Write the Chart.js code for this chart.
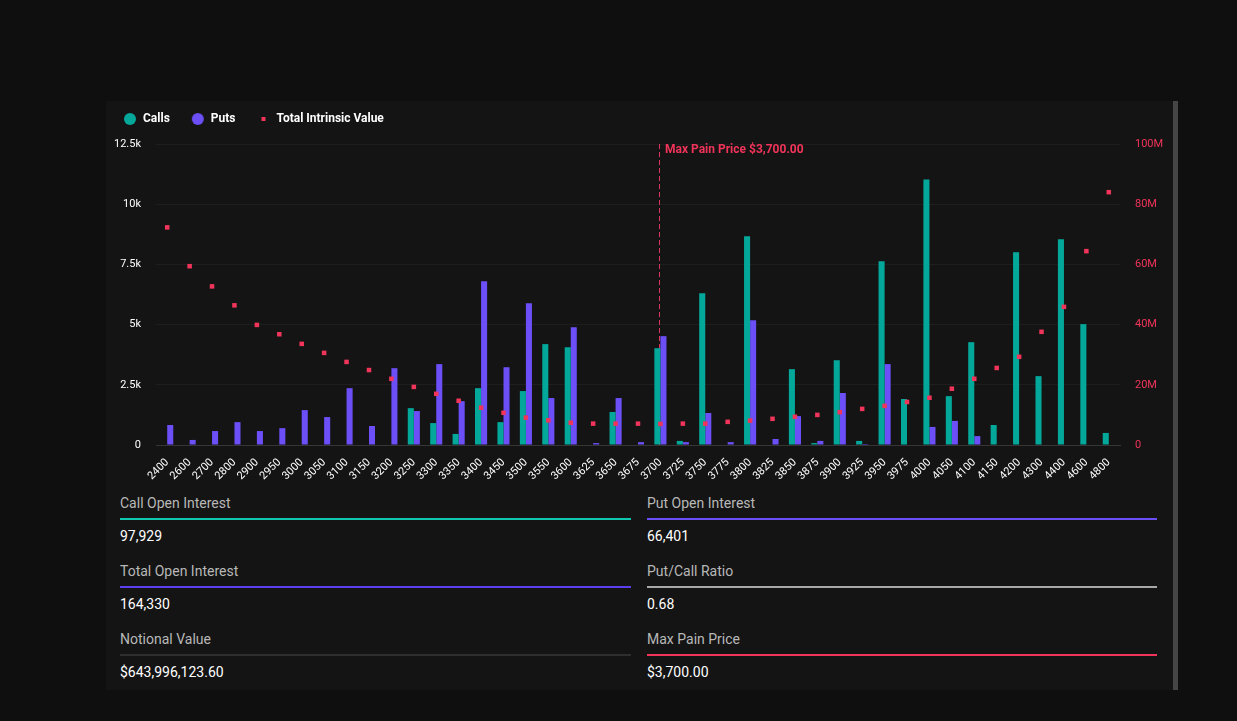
<!DOCTYPE html>
<html>
<head>
<meta charset="utf-8">
<script src="https://cdn.jsdelivr.net/npm/chart.js@4.4.1/dist/chart.umd.min.js"></script>
<style>
html,body{margin:0;padding:0;background:#0f0f0f;width:1237px;height:721px;overflow:hidden;font-family:Roboto,"Noto Sans",sans-serif;}
#card{position:absolute;left:106px;top:101px;width:1072px;height:589px;background:#141414;}
#scroll{position:absolute;left:1173px;top:101px;width:5px;height:589px;background:#454545;}
#wrap{position:absolute;left:102px;top:92px;width:1071px;height:400px;}
.stat{position:absolute;width:511px;height:50px;}
.lab{position:absolute;left:0;top:0;font-size:14px;line-height:16px;color:#b8b8b8;white-space:nowrap;}
.line{position:absolute;left:0;top:23px;width:100%;height:2px;}
.val{position:absolute;left:0;top:33px;font-size:14px;line-height:16px;color:#ffffff;white-space:nowrap;}
</style>
</head>
<body>
<div id="card"></div>
<div id="scroll"></div>
<div id="wrap"><canvas id="c" width="1071" height="400"></canvas></div>

<div class="stat" style="left:120px;top:495px;"><div class="lab">Call Open Interest</div><div class="line" style="background:#12c7b1"></div><div class="val">97,929</div></div>
<div class="stat" style="left:647px;top:495px;width:510px;"><div class="lab">Put Open Interest</div><div class="line" style="background:#6b4ff6"></div><div class="val">66,401</div></div>
<div class="stat" style="left:120px;top:563px;"><div class="lab">Total Open Interest</div><div class="line" style="background:#5a3ef0"></div><div class="val">164,330</div></div>
<div class="stat" style="left:647px;top:563px;width:510px;"><div class="lab">Put/Call Ratio</div><div class="line" style="background:#a8a8a8"></div><div class="val">0.68</div></div>
<div class="stat" style="left:120px;top:631px;"><div class="lab">Notional Value</div><div class="line" style="background:#2e2e2e"></div><div class="val">$643,996,123.60</div></div>
<div class="stat" style="left:647px;top:631px;width:510px;"><div class="lab">Max Pain Price</div><div class="line" style="background:#f0345a"></div><div class="val">$3,700.00</div></div>

<script>
// ---- data ----
const strikes = ['2400','2600','2700','2800','2900','2950','3000','3050','3100','3150','3200','3250','3300','3350','3400','3450','3500','3550','3600','3625','3650','3675','3700','3725','3750','3775','3800','3825','3850','3875','3900','3925','3950','3975','4000','4050','4100','4150','4200','4300','4400','4600','4800'];
const callsOI = [0,0,0,0,0,0,0,0,0,0,0,1530,910,460,2360,950,2240,4190,4060,0,1370,0,4020,170,6300,0,8670,0,3150,80,3520,170,7630,1910,11030,2030,4270,830,8000,2860,8540,5020,500];
const putsOI = [830,210,580,950,580,700,1450,1160,2360,790,3190,1410,3360,1820,6800,3230,5890,1950,4890,80,1950,120,4520,120,1330,120,5180,250,1200,170,2160,40,3360,0,750,1000,370,0,0,0,0,0,0];
const intrinsicM = [72.3,59.4,52.7,46.4,39.9,36.8,33.6,30.6,27.6,24.9,22.0,19.3,17.0,14.7,12.4,10.7,9.1,8.2,7.4,7.1,7.1,7.1,7.0,7.1,7.1,7.7,8.1,8.7,9.4,10.0,10.9,12.0,13.0,14.3,15.7,18.7,22.0,25.6,29.3,37.6,45.9,64.4,84.0];
const leftTicks = [0,2500,5000,7500,10000,12500];
const rightTicks = [0,20,40,60,80,100];
const maxPainStrike = '3700';
const maxPainLabel = 'Max Pain Price $3,700.00';

const COL_CALL = '#03a89b', COL_PUT = '#6c4ff7', COL_IV = '#f0345a';

function icon(kind, color){
  const cv = document.createElement('canvas');
  cv.width = 14; cv.height = 14;
  const g = cv.getContext('2d');
  g.fillStyle = color;
  if(kind==='circle'){ g.beginPath(); g.arc(7,7,6,0,Math.PI*2); g.fill(); }
  else { g.fillRect(5,5,4,4); }
  return cv;
}
const icons = [icon('circle',COL_CALL), icon('circle',COL_PUT), icon('rect',COL_IV)];

const maxPainPlugin = {
  id:'maxPain',
  beforeDatasetsDraw(chart){
    const ctx = chart.ctx, xs = chart.scales.x, a = chart.chartArea;
    const x = Math.round(xs.getPixelForValue(strikes.indexOf(maxPainStrike))) - 0.5;
    ctx.save();
    ctx.strokeStyle = '#d9365e';
    ctx.lineWidth = 1;
    ctx.setLineDash([5,3]);
    ctx.beginPath(); ctx.moveTo(x, a.top); ctx.lineTo(x, a.bottom); ctx.stroke();
    ctx.restore();
  },
  afterDatasetsDraw(chart){
    const ctx = chart.ctx, xs = chart.scales.x, a = chart.chartArea;
    const x = Math.round(xs.getPixelForValue(strikes.indexOf(maxPainStrike)));
    ctx.save();
    ctx.fillStyle = COL_IV;
    ctx.font = 'bold 12px Roboto';
    ctx.textBaseline = 'alphabetic';
    ctx.textAlign = 'left';
    ctx.fillText(maxPainLabel, x + 5, a.top + 9);
    ctx.restore();
  }
};

const tickFont = {family:'Roboto', size:11};

new Chart(document.getElementById('c'), {
  data: {
    labels: strikes,
    datasets: [
      {type:'bar', label:'Calls', data:callsOI, backgroundColor:COL_CALL, yAxisID:'y', categoryPercentage:0.54, barPercentage:1, order:1},
      {type:'bar', label:'Puts', data:putsOI, backgroundColor:COL_PUT, yAxisID:'y', categoryPercentage:0.54, barPercentage:1, order:1},
      {type:'line', label:'Total Intrinsic Value', data:intrinsicM, yAxisID:'y1', showLine:false, pointStyle:'rect', pointRadius:3.2, pointBackgroundColor:COL_IV, pointBorderWidth:0, borderColor:COL_IV, order:0}
    ]
  },
  options: {
    responsive:false,
    animation:false,
    layout:{padding:0},
    plugins:{
      tooltip:{enabled:false},
      subtitle:{display:true, text:'', weight:500, position:'top', font:{size:1, lineHeight:1}, padding:{top:0, bottom:8}},
      legend:{
        position:'top', align:'start',
        labels:{
          usePointStyle:true, pointStyleWidth:14, padding:21, color:'#ffffff',
          font:{family:'Roboto', size:12, weight:'bold'},
          sort:(a,b)=>a.datasetIndex-b.datasetIndex,
          generateLabels(chart){
            return chart.data.datasets.map((ds,i)=>({
              text:ds.label, pointStyle:icons[i], fillStyle:'transparent', strokeStyle:'transparent',
              lineWidth:0, hidden:false, datasetIndex:i, fontColor:'#ffffff'
            }));
          }
        }
      }
    },
    scales:{
      x:{
        type:'category', offset:true,
        grid:{display:false, drawTicks:true, tickLength:8},
        border:{display:true, color:'#363636'},
        ticks:{color:'#ffffff', font:tickFont, maxRotation:45, minRotation:45, autoSkip:false, padding:3},
        afterFit(s){ s.height = 47; }
      },
      y:{
        position:'left', min:0, max:12500,
        afterBuildTicks(s){ s.ticks = leftTicks.map(v=>({value:v})); },
        ticks:{color:'#ffffff', font:tickFont, padding:15, callback:(v)=> v===0 ? '0' : (v/1000)+'k'},
        grid:{color:'#1e1e1e', drawTicks:false},
        border:{display:false},
        afterFit(s){ s.width = 54; }
      },
      y1:{
        position:'right', min:0, max:100,
        afterBuildTicks(s){ s.ticks = rightTicks.map(v=>({value:v})); },
        ticks:{color:COL_IV, font:tickFont, padding:15, callback:(v)=> v===0 ? '0' : v+'M'},
        grid:{display:false, drawTicks:false},
        border:{display:false},
        afterFit(s){ s.width = 53; }
      }
    }
  },
  plugins:[maxPainPlugin]
});
</script>
</body>
</html>
